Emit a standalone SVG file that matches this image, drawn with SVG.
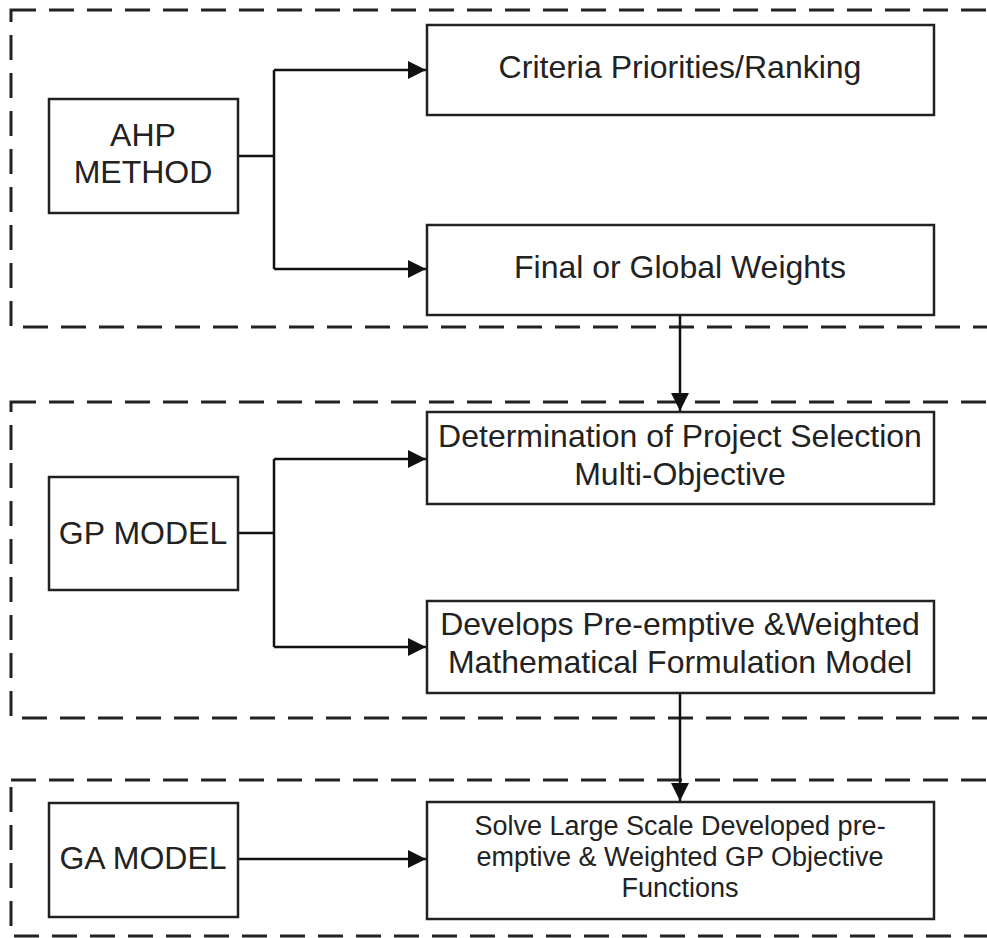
<svg xmlns="http://www.w3.org/2000/svg" width="987" height="938" viewBox="0 0 987 938">
<style>
.bg{fill:#fff}
.group{fill:none;stroke:#222;stroke-width:3;stroke-dasharray:25 13}
.box{fill:#fff;stroke:#222;stroke-width:2.5}
.t{font-family:"Liberation Sans",Arial,sans-serif;font-size:32px;fill:#222;text-anchor:middle}
.s{font-size:27px}
.c{fill:none;stroke:#111;stroke-width:2.5}
</style>
<defs>
<marker id="ah" markerWidth="18" markerHeight="18" viewBox="0 0 18 18" refX="18" refY="9" orient="auto" markerUnits="userSpaceOnUse">
<path d="M0,0 L18,9 L0,18 Z" fill="#111"/>
</marker>
</defs>
<rect class="bg" x="0" y="0" width="987" height="938"/>
<g id="containers">
<rect class="group" x="11" y="10" width="1000" height="317"/>
<rect class="group" x="11" y="402" width="1000" height="316"/>
<rect class="group" x="11" y="780" width="1000" height="156"/>
</g>
<g id="connectors">
<path class="c" d="M238,156 H274 M274,70 V269"/>
<path class="c" d="M274,70 H426" marker-end="url(#ah)"/>
<path class="c" d="M274,269 H426" marker-end="url(#ah)"/>
<path class="c" d="M680,315 V411" marker-end="url(#ah)"/>
<path class="c" d="M238,533 H274 M274,459 V647"/>
<path class="c" d="M274,459 H426" marker-end="url(#ah)"/>
<path class="c" d="M274,647 H426" marker-end="url(#ah)"/>
<path class="c" d="M680,693 V801" marker-end="url(#ah)"/>
<path class="c" d="M238,859 H426" marker-end="url(#ah)"/>
</g>
<g id="ahp">
<rect class="box" x="49" y="99" width="189" height="114"/>
<text class="t" x="143" y="146">AHP</text>
<text class="t" x="143" y="183">METHOD</text>
</g>
<g id="criteria">
<rect class="box" x="427" y="25" width="507" height="90"/>
<text class="t" x="680" y="78">Criteria Priorities/Ranking</text>
</g>
<g id="weights">
<rect class="box" x="427" y="225" width="507" height="90"/>
<text class="t" x="680" y="278">Final or Global Weights</text>
</g>
<g id="gp">
<rect class="box" x="49" y="477" width="189" height="113"/>
<text class="t" x="143" y="544">GP MODEL</text>
</g>
<g id="determination">
<rect class="box" x="427" y="412" width="507" height="92"/>
<text class="t" x="680" y="447">Determination of Project Selection</text>
<text class="t" x="680" y="485">Multi-Objective</text>
</g>
<g id="develops">
<rect class="box" x="427" y="601" width="507" height="92"/>
<text class="t" x="680" y="635">Develops Pre-emptive &amp;Weighted</text>
<text class="t" x="680" y="673">Mathematical Formulation Model</text>
</g>
<g id="ga">
<rect class="box" x="49" y="803" width="189" height="114"/>
<text class="t" x="143" y="869">GA MODEL</text>
</g>
<g id="solve">
<rect class="box" x="427" y="802" width="507" height="117"/>
<text class="t s" x="680" y="835">Solve Large Scale Developed pre-</text>
<text class="t s" x="680" y="866">emptive &amp; Weighted GP Objective</text>
<text class="t s" x="680" y="897">Functions</text>
</g>
</svg>
